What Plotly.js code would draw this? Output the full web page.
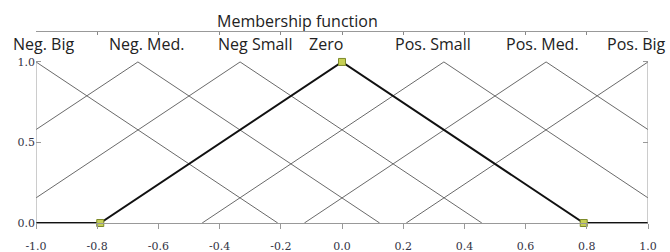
<!DOCTYPE html>
<html><head><meta charset="utf-8">
<script src="https://cdn.plot.ly/plotly-3.0.1.min.js"></script>
<style>html,body{margin:0;padding:0;background:#fff}#c{width:670px;height:252px}</style>
</head><body><div id="c"></div>
<script>
// Fuzzy set names (top labels)
var setNames = ["Neg. Big", "Neg. Med.", "Neg Small", "Zero", "Pos. Small", "Pos. Med.", "Pos. Big"];
// Peak (centre) of each set
var setPeaks = [-1.0, -0.667, -0.333, 0.0, 0.333, 0.667, 1.0];
// Vertices of each membership function (x, membership)
var negBigX   = [-1.0, -0.21];          var negBigY   = [1.0, 0.0];
var negMedX   = [-1.0, -0.667, 0.123];  var negMedY   = [0.58, 1.0, 0.0];
var negSmallX = [-1.0, -0.333, 0.457];  var negSmallY = [0.156, 1.0, 0.0];
var zeroX     = [-1.0, -0.79, 0.0, 0.79, 1.0]; var zeroY = [0.0, 0.0, 1.0, 0.0, 0.0];
var posSmallX = [-0.457, 0.333, 1.0];   var posSmallY = [0.0, 1.0, 0.156];
var posMedX   = [-0.123, 0.667, 1.0];   var posMedY   = [0.0, 1.0, 0.58];
var posBigX   = [0.21, 1.0];            var posBigY   = [0.0, 1.0];
// Highlighted vertices of the "Zero" set
var zeroPtsX = [-0.79, 0.0, 0.79];
var zeroPtsY = [0.0, 1.0, 0.0];
// Axis ticks
var xTicks = [-1.0, -0.8, -0.6, -0.4, -0.2, 0.0, 0.2, 0.4, 0.6, 0.8, 1.0];
var xTickText = ["-1.0", "-0.8", "-0.6", "-0.4", "-0.2", "0.0", "0.2", "0.4", "0.6", "0.8", "1.0"];
var yTicks = [0.0, 0.5, 1.0];
var yTickText = ["0.0", "0.5", "1.0"];

var thin = {color: '#6a6a6a', width: 1};
function thinTrace(x, y) { return {x: x, y: y, type: 'scatter', mode: 'lines', line: thin, hoverinfo: 'skip'}; }

var traces = [
  thinTrace(negBigX, negBigY),
  thinTrace(negMedX, negMedY),
  thinTrace(negSmallX, negSmallY),
  thinTrace(posSmallX, posSmallY),
  thinTrace(posMedX, posMedY),
  thinTrace(posBigX, posBigY),
  {x: zeroX, y: zeroY, type: 'scatter', mode: 'lines', line: {color: '#111', width: 2}},
  {x: zeroPtsX, y: zeroPtsY, type: 'scatter', mode: 'markers', cliponaxis: false,
   marker: {symbol: 'square', size: 7, color: '#c6cf55', line: {color: '#7d8a2a', width: 1}}},
  // invisible trace to activate the top axis
  {x: [-1, 1], y: [0, 0], xaxis: 'x2', yaxis: 'y', type: 'scatter', mode: 'lines', line: {width: 0}, hoverinfo: 'skip'}
];

var labelShift = [7, 9, 15, -16, -11, -4, -12];
var annotations = setNames.map(function (n, i) {
  return {x: setPeaks[i], y: 1.11, xref: 'x', yref: 'y', text: n, showarrow: false,
          xshift: labelShift[i], yanchor: 'middle',
          font: {family: 'Open Sans', size: 16, color: '#222'}};
});
annotations.push({x: (297 - 36) / 612, y: 1.058, xref: 'paper', yref: 'paper', yanchor: 'middle', text: 'Membership function',
                  showarrow: false, font: {family: 'Open Sans', size: 16, color: '#222'}});

var layout = {
  width: 670, height: 252,
  margin: {l: 36, r: 22, t: 32, b: 29},
  paper_bgcolor: '#fff', plot_bgcolor: '#fff',
  showlegend: false,
  xaxis: {range: [-1, 1], tickvals: xTicks, ticktext: xTickText, showgrid: false, zeroline: false,
          showline: true, linecolor: '#999', linewidth: 1, ticks: 'outside', ticklen: 5, tickcolor: '#999',
          ticklabelstandoff: 8,
          tickfont: {family: 'DejaVu Serif', size: 11, color: '#333344'}},
  xaxis2: {range: [-1, 1], overlaying: 'x', side: 'top', tickvals: xTicks, showticklabels: false,
           showgrid: false, zeroline: false, showline: true, linecolor: '#999', linewidth: 1,
           ticks: 'inside', ticklen: 3, tickcolor: '#888'},
  yaxis: {range: [0, 1.186], tickvals: yTicks, ticktext: yTickText, showgrid: false, zeroline: false,
          showline: false, ticks: 'inside', ticklen: 5, tickcolor: '#999', mirror: 'ticks',
          tickfont: {family: 'DejaVu Serif', size: 11, color: '#333344'}},
  shapes: [
    {type: 'line', xref: 'x', yref: 'y', x0: -1, x1: -1, y0: 0, y1: 1, line: {color: '#999', width: 1}},
    {type: 'line', xref: 'x', yref: 'y', x0: 1, x1: 1, y0: 0, y1: 1, line: {color: '#999', width: 1}}
  ],
  annotations: annotations
};

Plotly.newPlot('c', traces, layout, {displayModeBar: false, staticPlot: true});
</script>
</body></html>
